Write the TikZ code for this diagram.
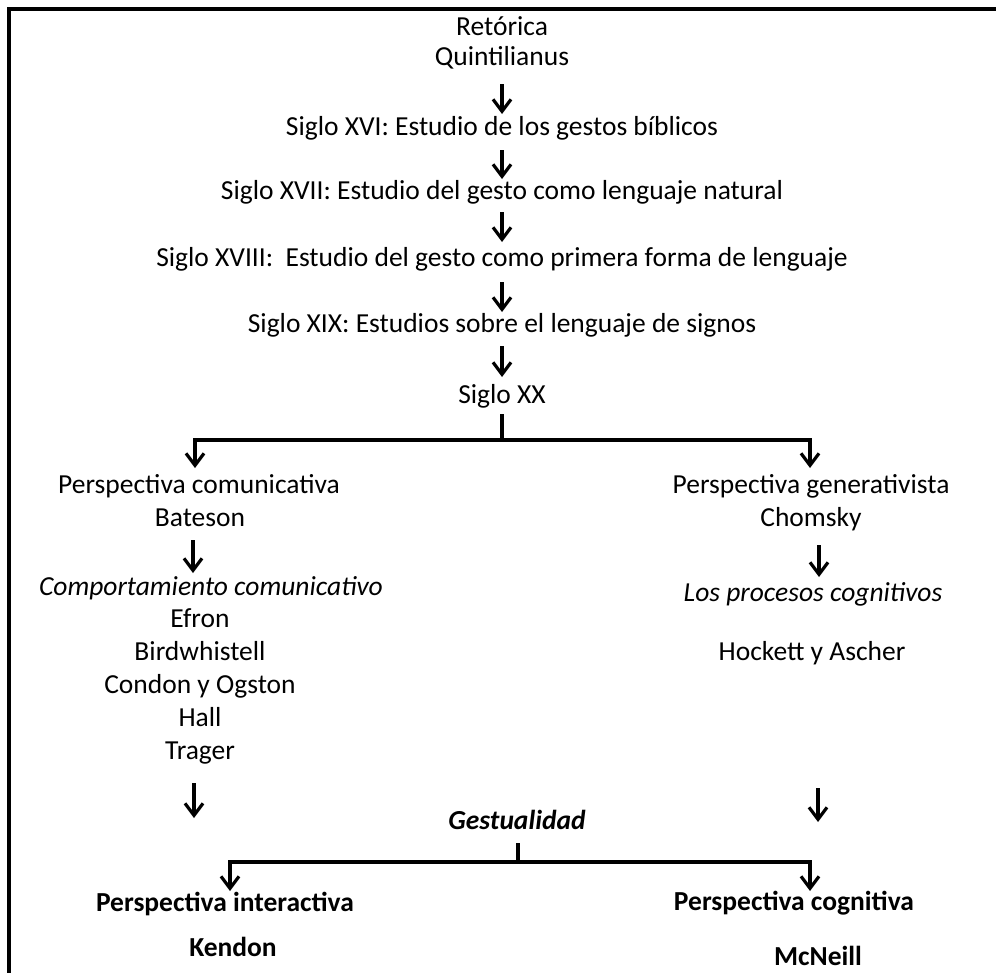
\documentclass[tikz,border=0pt]{standalone}
\usepackage{fontspec}
\setmainfont{Carlito}
\usetikzlibrary{arrows.meta}
\begin{document}
\begin{tikzpicture}[x=1pt,y=-1pt,
  txt/.style={inner sep=0pt, text height=0.64em, text depth=0pt,
              font=\fontsize{27.5}{33}\selectfont},
  arr/.style={line width=3.2pt, line cap=butt, -{Straight Barb[length=12pt,width=18pt]}},
  bar/.style={line width=3.2pt}]
\useasboundingbox (0,0) rectangle (996,972);
% outer frame
\draw[line width=3.5pt] (9,9) rectangle (1010,990);

% main chronological column
\node[txt] (ret)   at (502,32)  {Retórica};
\node[txt] (quint) at (502,62)  {Quintilianus};
\node[txt] (xvi)   at (502,132) {Siglo XVI: Estudio de los gestos bíblicos};
\node[txt] (xvii)  at (502,196) {Siglo XVII: Estudio del gesto como lenguaje natural};
\node[txt] (xviii) at (502,263) {Siglo XVIII:\ \ Estudio del gesto como primera forma de lenguaje};
\node[txt] (xix)   at (502,329) {Siglo XIX: Estudios sobre el lenguaje de signos};
\node[txt] (xx)    at (502,400) {Siglo XX};

\coordinate (a1s) at (502,84);  \coordinate (a1e) at (502,114);
\coordinate (a2s) at (502,150); \coordinate (a2e) at (502,179);
\coordinate (a3s) at (502,212); \coordinate (a3e) at (502,242);
\coordinate (a4s) at (502,282); \coordinate (a4e) at (502,312);
\coordinate (a5s) at (502,346); \coordinate (a5e) at (502,377);
\draw[arr] (a1s) -- (a1e);
\draw[arr] (a2s) -- (a2e);
\draw[arr] (a3s) -- (a3e);
\draw[arr] (a4s) -- (a4e);
\draw[arr] (a5s) -- (a5e);

% split of the twentieth century
\coordinate (xxs) at (502,414);
\coordinate (xxj) at (502,440);
\coordinate (xxl) at (195,468);
\coordinate (xxr) at (810,468);
\draw[bar] (xxs) -- (xxj);
\draw[arr] (xxj) -| (xxl);
\draw[arr] (xxj) -| (xxr);

% left branch
\node[txt] (pcom) at (199,490) {Perspectiva comunicativa};
\node[txt] (bat)  at (200,523) {Bateson};
\node[txt] (comp) at (211,592) {\itshape Comportamiento comunicativo};
\node[txt] (efr)  at (200,624) {Efron};
\node[txt] (bird) at (200,657) {Birdwhistell};
\node[txt] (cond) at (200,690) {Condon y Ogston};
\node[txt] (hall) at (200,723) {Hall};
\node[txt] (trag) at (200,756) {Trager};
\coordinate (b1s) at (193,540); \coordinate (b1e) at (193,573);
\coordinate (b2s) at (194,783); \coordinate (b2e) at (194,818);
\draw[arr] (b1s) -- (b1e);
\draw[arr] (b2s) -- (b2e);

% right branch
\node[txt] (pgen) at (811,490) {Perspectiva generativista};
\node[txt] (chom) at (811,523) {Chomsky};
\node[txt] (proc) at (813,598) {\itshape Los procesos cognitivos};
\node[txt] (hock) at (812,657) {Hockett y Ascher};
\coordinate (c1s) at (819,545); \coordinate (c1e) at (819,577);
\coordinate (c2s) at (818,788); \coordinate (c2e) at (818,822);
\draw[arr] (c1s) -- (c1e);
\draw[arr] (c2s) -- (c2e);

% gesture studies
\node[txt] (gest) at (517,826) {\bfseries\itshape Gestualidad};
\coordinate (gs) at (518,843);
\coordinate (gj) at (518,862);
\coordinate (gl) at (230,891);
\coordinate (gr) at (810,891);
\draw[bar] (gs) -- (gj);
\draw[arr] (gj) -| (gl);
\draw[arr] (gj) -| (gr);

\node[txt] (pint) at (225,908) {\bfseries Perspectiva interactiva};
\node[txt] (kend) at (233,953) {\bfseries Kendon};
\node[txt] (pcog) at (794,907) {\bfseries Perspectiva cognitiva};
\node[txt] (mcn)  at (818,962) {\bfseries McNeill};
\end{tikzpicture}
\end{document}
